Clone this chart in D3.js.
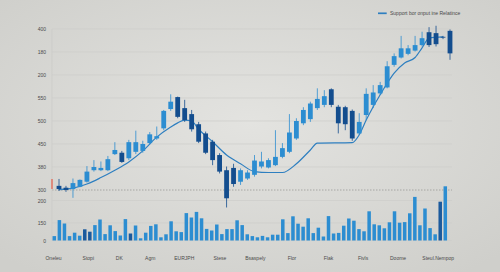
<!DOCTYPE html>
<html>
<head>
<meta charset="utf-8">
<script src="https://cdn.jsdelivr.net/npm/d3@7"></script>
<style>
  html, body { margin: 0; padding: 0; }
  body { width: 500px; height: 272px; overflow: hidden; }
  .tick text { font-family: "Liberation Sans", Arial, sans-serif; }
</style>
</head>
<body>
<div id="chart"></div>
<script>
// candles (price units)
const candleOpen  = [309,305,302,307,318,343,343,343,378,381,369,383,385,402,412,434,476,502,478,465,443,423,405,376,343,348,318,325,333,351,349,354,372,383,412,445,454,478,485,519,481,480,472,423,463,485,510,523,572,588,596,603,615,643,641,633,646]
const candleClose = [302,300,315,322,340,350,348,367,387,361,404,404,400,421,417,472,492,459,452,432,405,381,365,340,282,313,343,338,364,362,365,372,391,425,450,474,488,498,504,485,445,443,412,448,509,512,528,569,591,608,608,615,630,615,617,632,597]
const candleHigh  = [324,309,325,323,352,365,362,374,404,385,409,429,407,426,438,474,508,503,496,474,448,427,409,380,351,357,347,343,376,383,369,430,402,465,456,480,492,521,517,521,485,483,475,467,521,528,535,580,597,635,615,635,644,654,657,635,649]
const candleLow   = [298,296,283,306,316,340,341,341,376,359,365,378,381,399,409,430,472,456,448,427,402,378,354,336,262,307,311,322,329,347,347,352,369,380,409,441,448,474,480,480,423,430,407,420,452,478,507,521,568,586,593,601,612,611,612,628,583]

// support line, [candle index, price]
const supportIdx   = [0,2,4,6,8,10,12,14,16,17,18,19,20,22,24,26,28,30,32,34,36,37,42,43,44,45,46,47,48,49.5,51,52,53,54,55]
const supportPrice = [301,304,313,327,343,361,385,415,437,446,452,450,432,405,376,357,340,338,338,357,387,402,403,420,452,481,507,532,554,576,588,609,630,632,633]

// volume
const volume = [22,102,85,22,39,24,56,44,77,105,32,76,47,25,107,35,75,11,39,73,81,16,31,96,46,42,137,115,143,111,58,50,80,32,57,57,101,77,31,22,16,23,16,29,29,106,37,121,84,69,111,37,64,20,122,35,38,74,110,99,57,46,146,81,76,61,91,146,89,92,136,218,76,160,62,31,194,271]
const volumeDark = [6,7,15,76]

// axes
const priceTicks = [300,350,400,450,500,550,600,650]
const priceTickLabels = ['300','380','450','500','550','200','180','400']
const volTicks = [0,87.5,200]
const volTickLabels = ['0','150','200']
const xTickPos = [-0.25,6.6,12.7,18.8,25.5,32.5,39.5,46.7,53.9,60.7,67.6,75.5]
const xTickLabels = ['Oneleu','Stopi','DK','Agm','EURJPH','Stese','Bsaspely','Flor','Flak','Fivls','Doome','Steul.Nempop']
const legendLabel = 'Support bor onput ine Relatince'

const W = 500, H = 272
const left = 52, right = 452
const LIGHT = '#2c8dd1', DARK = '#134d8e', LINE = '#2e7fc0'

const svg = d3.select('#chart').append('svg').attr('width', W).attr('height', H)

const defs = svg.append('defs')
const grad = defs.append('radialGradient').attr('id', 'bg').attr('cx', '50%').attr('cy', '45%').attr('r', '70%')
grad.append('stop').attr('offset', '0%').attr('stop-color', '#e3e3e0')
grad.append('stop').attr('offset', '100%').attr('stop-color', '#cfcfcb')
svg.append('rect').attr('width', W).attr('height', H).attr('fill', 'url(#bg)')

const y = d3.scaleLinear().domain([300, 650]).range([190, 29])
const yVol = d3.scaleLinear().domain([0, 200]).range([240.5, 200.5])
const xC = d3.scaleLinear().domain([0, candleOpen.length - 1]).range([59, 450])
const xV = d3.scaleLinear().domain([0, volume.length - 1]).range([54.3, 445.3])

// grid
const grid = svg.append('g')
priceTicks.forEach(t => {
  grid.append('line').attr('x1', left).attr('x2', right).attr('y1', y(t)).attr('y2', y(t))
    .attr('stroke', t === 300 ? '#9a9a98' : '#cdcdca')
    .attr('stroke-width', t === 300 ? 0.8 : 0.7)
    .attr('stroke-dasharray', t === 300 ? '1.5,1.5' : null)
})
volTicks.forEach(t => {
  grid.append('line').attr('x1', left).attr('x2', right).attr('y1', yVol(t)).attr('y2', yVol(t))
    .attr('stroke', '#cdcdca').attr('stroke-width', 0.7)
})
grid.append('line').attr('x1', left).attr('x2', left).attr('y1', y(650)).attr('y2', yVol(0))
  .attr('stroke', '#cacac7').attr('stroke-width', 0.7)

// red marker
svg.append('rect').attr('x', left - 0.8).attr('y', 179).attr('width', 1.6).attr('height', 10).attr('fill', '#e07a6a')

// y labels
const yAxis = svg.append('g').attr('transform', `translate(${left},0)`)
  .call(d3.axisLeft(y).tickValues(priceTicks).tickSize(0).tickPadding(6).tickFormat((d, i) => priceTickLabels[i]))
const vAxis = svg.append('g').attr('transform', `translate(${left},0)`)
  .call(d3.axisLeft(yVol).tickValues(volTicks).tickSize(0).tickPadding(6).tickFormat((d, i) => volTickLabels[i]))
const xAxis = svg.append('g').attr('transform', 'translate(0,256.5)')
  .call(d3.axisBottom(xV).tickValues(xTickPos).tickSize(0).tickPadding(0).tickFormat((d, i) => xTickLabels[i]))
;[yAxis, vAxis, xAxis].forEach(a => {
  a.select('.domain').remove()
  a.selectAll('text').attr('font-size', '5px').attr('fill', '#4a4a4a')
})

// volume bars
svg.append('g').selectAll('rect').data(volume).join('rect')
  .attr('x', (d, i) => xV(i) - 1.75)
  .attr('y', d => yVol(d))
  .attr('width', 3.5)
  .attr('height', d => yVol(0) - yVol(d))
  .attr('fill', (d, i) => volumeDark.includes(i) ? '#1b5a9d' : LIGHT)

// support line
const linePts = supportIdx.map((d, i) => [xC(d), y(supportPrice[i])])
svg.append('path').datum(linePts)
  .attr('d', d3.line().curve(d3.curveMonotoneX))
  .attr('fill', 'none').attr('stroke', LINE).attr('stroke-width', 1.2)

// candles
const candles = svg.append('g')
candleOpen.forEach((o, i) => {
  const c = candleClose[i]
  const col = c >= o ? LIGHT : DARK
  const cx = xC(i)
  candles.append('line').attr('x1', cx).attr('x2', cx)
    .attr('y1', y(candleHigh[i])).attr('y2', y(candleLow[i]))
    .attr('stroke', col).attr('stroke-width', 0.8)
  const top = y(Math.max(o, c)), bot = y(Math.min(o, c))
  candles.append('rect').attr('x', cx - 2.4).attr('width', 4.8)
    .attr('y', top).attr('height', Math.max(bot - top, 0.8))
    .attr('fill', col)
})

// legend
const lg = svg.append('g').attr('transform', 'translate(378,13.3)')
lg.append('line').attr('x1', 0).attr('x2', 8.7).attr('stroke', LINE).attr('stroke-width', 1.7)
lg.append('text').attr('x', 12).attr('y', 1.7).attr('font-size', '5px').attr('fill', '#4a4a4a')
  .attr('font-family', '"Liberation Sans", Arial, sans-serif').text(legendLabel)
</script>
</body>
</html>
